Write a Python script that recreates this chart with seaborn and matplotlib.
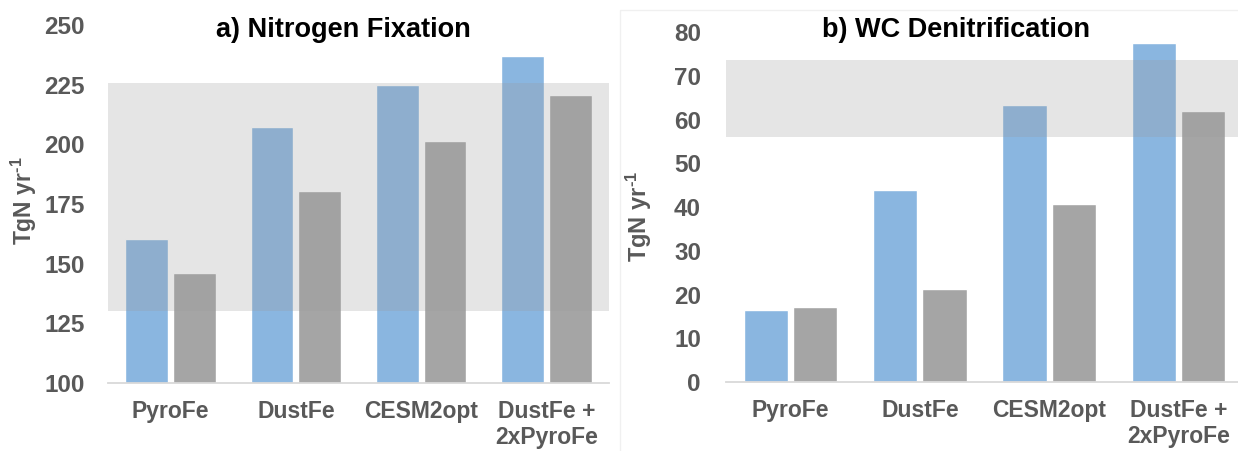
import matplotlib
matplotlib.use("Agg")
import matplotlib.pyplot as plt
import seaborn as sns
import pandas as pd
from matplotlib.patches import Rectangle

# ---- data ----
categories = ["PyroFe", "DustFe", "CESM2opt", "DustFe +\n2xPyroFe"]
series_names = ["Series 1", "Series 2"]
nfix_s1 = [160.3, 207.3, 224.8, 236.9]
nfix_s2 = [146.1, 180.4, 201.3, 220.6]
denit_s1 = [16.5, 44.0, 63.4, 77.5]
denit_s2 = [17.1, 21.3, 40.8, 62.0]
nfix_band = (130.0, 225.5)
denit_band = (56.0, 73.6)
nfix_ticks = [100, 125, 150, 175, 200, 225, 250]
denit_ticks = [0, 10, 20, 30, 40, 50, 60, 70, 80]
titles = ["a) Nitrogen Fixation", "b) WC Denitrification"]
ylabel_text = "TgN yr$^{\\text{-1}}$"

sns.set_theme(style="white")
plt.rcParams["font.family"] = ["Liberation Sans", "DejaVu Sans"]
plt.rcParams["mathtext.fontset"] = "custom"
plt.rcParams["mathtext.rm"] = "Liberation Sans:bold"
plt.rcParams["mathtext.bf"] = "Liberation Sans:bold"
plt.rcParams["mathtext.it"] = "Liberation Sans:bold"
plt.rcParams["mathtext.default"] = "rm"

W, H = 1238, 451
fig = plt.figure(figsize=(W / 100, H / 100), dpi=100)

# faint frame around panel b
fig.patches.append(Rectangle((620 / W, -0.01), (W - 620) / W + 0.01, 1 - 10 / H + 0.01,
                             transform=fig.transFigure, fill=False,
                             edgecolor="#f0f0f0", linewidth=1.0, zorder=0))

ax1 = fig.add_axes([108 / W, 1 - 383 / H, 501 / W, 358 / H])
ax2 = fig.add_axes([726 / W, 1 - 382 / H, 517 / W, 350 / H])

palette = {"Series 1": "#8AB6E0", "Series 2": "#A5A5A5"}
tick_color = "#595959"


def make_df(s1, s2):
    return pd.DataFrame({
        "category": categories * 2,
        "series": [series_names[0]] * 4 + [series_names[1]] * 4,
        "value": list(s1) + list(s2),
    })


panels = [
    (ax1, make_df(nfix_s1, nfix_s2), nfix_band, nfix_ticks, (100, 250), 17),
    (ax2, make_df(denit_s1, denit_s2), denit_band, denit_ticks, (0, 80), 18),
]

for ax, df, band, ticks, ylim, ypad in panels:
    sns.barplot(data=df, x="category", y="value", hue="series",
                palette=palette, order=categories, hue_order=series_names,
                width=0.76, gap=0.1, legend=False, ax=ax,
                saturation=1, zorder=2)
    ax.axhspan(band[0], band[1], color="#9a9a9a", alpha=0.25,
               linewidth=0, zorder=3)
    ax.set_ylim(*ylim)
    ax.set_xlim(-0.5, 3.5)
    ax.set_yticks(ticks)
    ax.set_yticklabels([str(t) for t in ticks])
    ax.set_xlabel("")
    ax.set_ylabel("")
    for s in ["top", "right", "left"]:
        ax.spines[s].set_visible(False)
    ax.spines["bottom"].set_color("#d9d9d9")
    ax.spines["bottom"].set_linewidth(1.3)
    ax.spines["bottom"].set_zorder(4)
    ax.tick_params(axis="y", length=0, pad=ypad, labelsize=17.5,
                   labelcolor=tick_color)
    ax.tick_params(axis="x", length=0, pad=12, labelsize=16.5,
                   labelcolor=tick_color)
    for lab in ax.get_yticklabels() + ax.get_xticklabels():
        lab.set_fontweight("bold")
    ax.set_facecolor("none")
    ax.grid(False)

# y-axis labels
fig.text(24 / W, 1 - 201 / H, ylabel_text, rotation=90, ha="center",
         va="center", fontsize=16.5, fontweight="bold", color=tick_color)
fig.text(639 / W, 1 - 216 / H, ylabel_text, rotation=90, ha="center",
         va="center", fontsize=17, fontweight="bold", color=tick_color)

# panel titles
fig.text(343 / W, 1 - 30 / H, titles[0], ha="center", va="center",
         fontsize=19.5, fontweight="bold", color="black")
fig.text(956 / W, 1 - 30 / H, titles[1], ha="center", va="center",
         fontsize=19.5, fontweight="bold", color="black")

fig.savefig("out.png", dpi=100)
